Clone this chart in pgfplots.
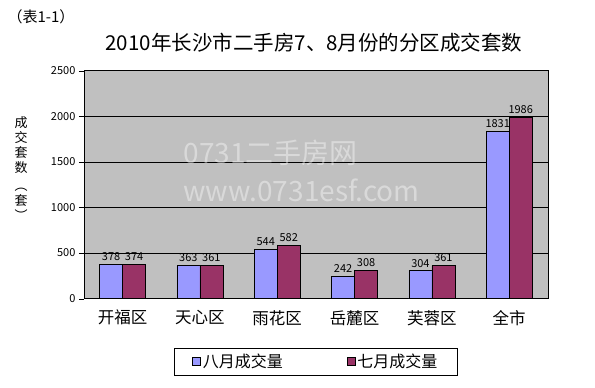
\documentclass[border=0pt]{standalone}
\usepackage{pgfplots}
\pgfplotsset{compat=1.18}
\usepackage{fontspec}
\setmainfont{Noto Sans CJK SC}
\definecolor{aug}{HTML}{9999FF}
\definecolor{jul}{HTML}{993366}
\definecolor{bg}{HTML}{C0C0C0}
\begin{document}
\begin{tikzpicture}[x=1pt,y=1pt]
\useasboundingbox (0,0) rectangle (595,388);
\fill[white] (0,0) rectangle (595,388);
\begin{axis}[
  at={(108.5,98)}, anchor=south west,
  scale only axis, width=464pt, height=228pt,
  ybar=0pt, bar width=23pt,
  xmin=-0.5, xmax=5.5, ymin=0, ymax=2500,
  ytick={0,500,...,2500},
  xtick={0,...,5},
  xticklabels={开福区,天心区,雨花区,岳麓区,芙蓉区,全市},
  x tick style={draw=none},
  extra x ticks={0.5,1.5,2.5,3.5,4.5},
  extra x tick labels={},
  extra x tick style={major tick length=5pt, tick align=inside, tick style={draw=black}, grid=none},
  tick align=outside, major tick length=5pt,
  y tick style={black},
  ytick pos=left,
  ymajorgrids, grid style={black, line width=0.6pt},
  axis background/.style={fill=bg},
  axis line style={black},
  /pgf/number format/assume math mode=true,
  /pgf/number format/1000 sep={},
  yticklabel style={font=\fontsize{11}{12}\selectfont},
  xticklabel style={font=\fontsize{16.5}{18}\selectfont, yshift=-3pt},
  nodes near coords,
  every node near coord/.append style={font=\fontsize{11}{12}\selectfont, black},
  legend style={at={(0.5,0)}, anchor=north, yshift=-49pt, legend columns=2, draw=black,
    font=\fontsize{16}{17}\selectfont, inner xsep=18pt, inner ysep=4pt,
    /tikz/every even column/.append style={column sep=62pt}},
  legend image code/.code={\draw[#1, draw=black, line width=0.5pt] (0pt,-4pt) rectangle (8pt,4pt);},
]
\addplot[fill=aug, draw=black, line width=0.8pt] coordinates {(0,378) (1,363) (2,544) (3,242) (4,304) (5,1831)};
\addplot[fill=jul, draw=black, line width=0.8pt] coordinates {(0,374) (1,361) (2,582) (3,308) (4,361) (5,1986)};
\legend{八月成交量,七月成交量}
\end{axis}
\node[anchor=west, white, opacity=0.4, font=\fontsize{28}{30}\selectfont] at (180,235) {0731二手房网};
\node[anchor=west, white, opacity=0.4, font=\fontsize{28}{30}\selectfont] at (180,198) {www.0731esf.com};
\node[anchor=west, font=\fontsize{15}{17}\selectfont] at (4,371) {（表1-1）};
\node[font=\fontsize{20.5}{22}\selectfont] at (314,345) {2010年长沙市二手房7、8月份的分区成交套数};
\node[align=center, font=\fontsize{13}{15}\selectfont, inner sep=0pt] at (21,219) {成\\交\\套\\数\\[3pt]︵\\套\\︶};
\end{tikzpicture}
\end{document}
